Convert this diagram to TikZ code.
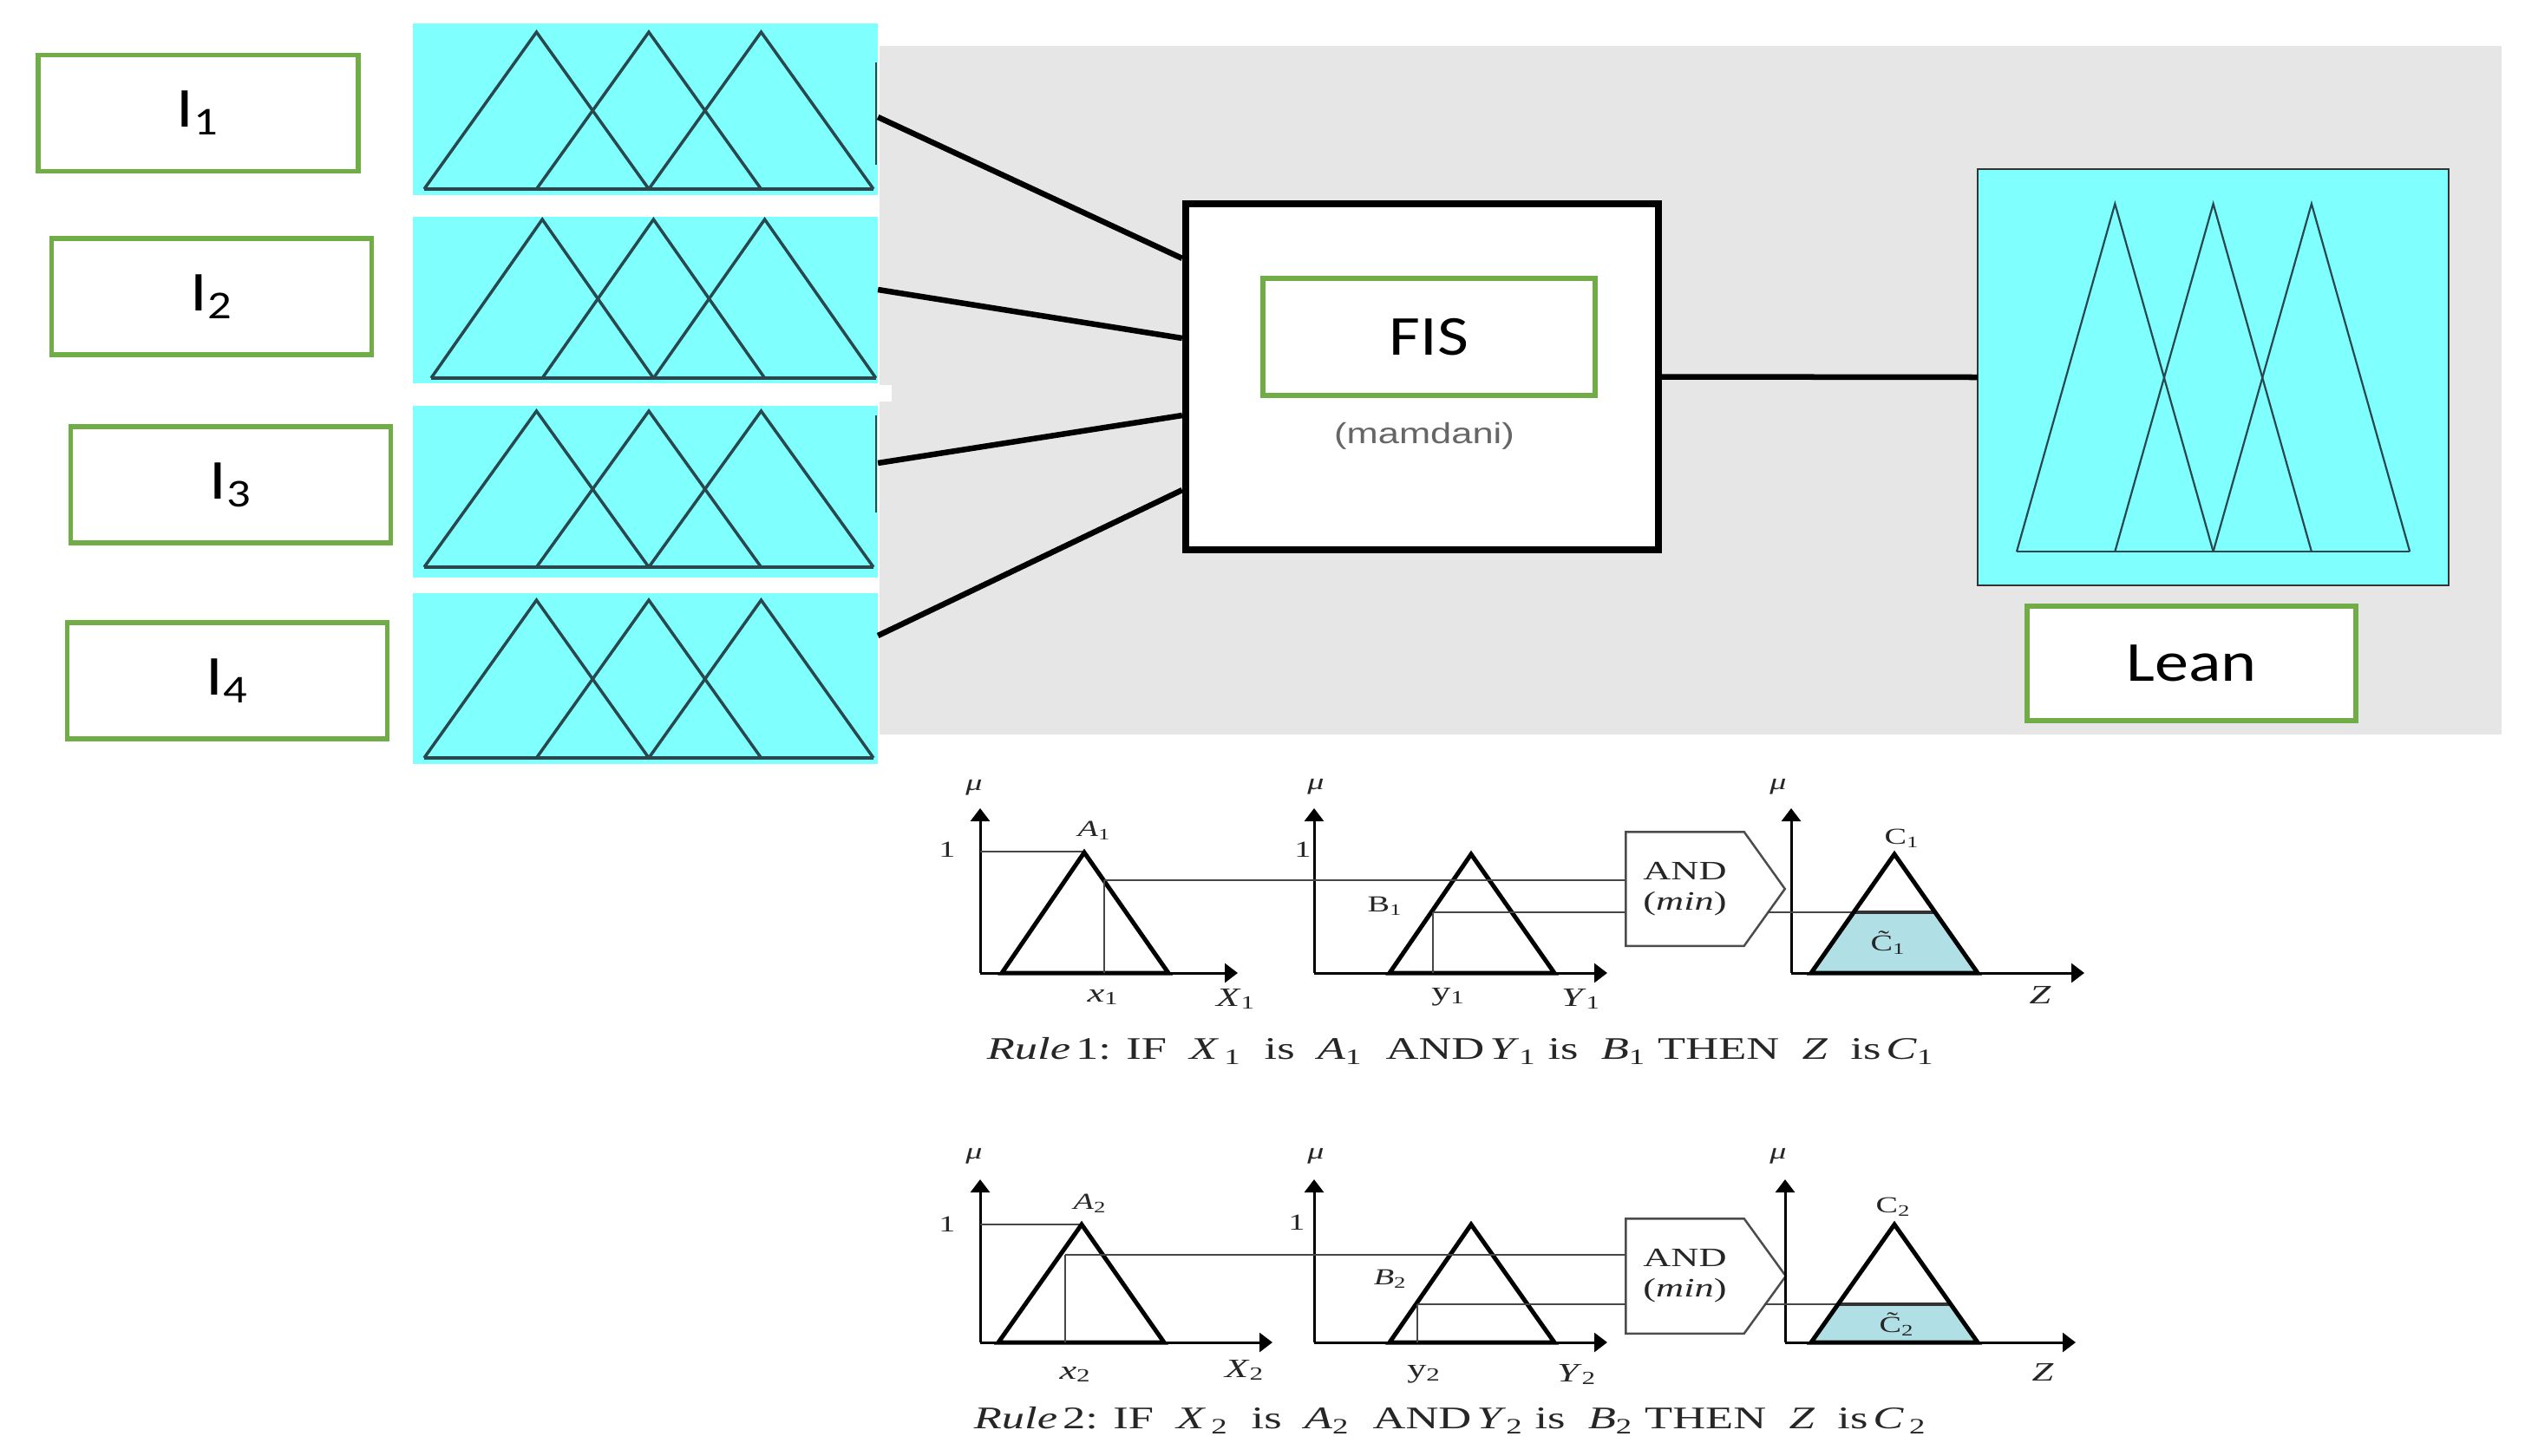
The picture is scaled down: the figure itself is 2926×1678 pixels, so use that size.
\documentclass[tikz,border=0pt]{standalone}
\usepackage{fontspec}
\newfontfamily\boxfont[FakeStretch=1.2]{Carlito}
\newfontfamily\mamfont[FakeStretch=1.3]{Liberation Sans}
\newfontfamily\rulefont[FakeStretch=1.45]{Liberation Serif}
\usetikzlibrary{arrows.meta}
\definecolor{mfcyan}{RGB}{128,255,255}
\definecolor{boxgreen}{RGB}{112,173,71}
\definecolor{bggrey}{RGB}{230,230,230}
\definecolor{cutfill}{RGB}{176,224,230}
\definecolor{mfdark}{RGB}{40,72,78}

\tikzset{
  inbox/.style={draw=boxgreen, line width=0.057cm, fill=white, inner sep=0,
    minimum width=3.69cm, minimum height=1.34cm,
    font={\boxfont\fontsize{18.5}{20}\selectfont}},
  mfpanel/.style={fill=mfcyan, inner sep=0, outer sep=0, minimum width=5.36cm},
  mfline/.style={mfdark, line width=0.035cm},
  link/.style={line width=0.065cm},
  axis/.style={line width=0.03cm, -{Triangle[width=0.22cm,length=0.15cm]}},
  member/.style={line width=0.05cm, line join=miter},
  guide/.style={gray!55!black, line width=0.025cm},
  andbox/.style={draw=gray!60!black, line width=0.025cm},
  lbl/.style={inner sep=0, text=black!85, font={\rulefont\fontsize{8.7}{10}\selectfont}},
  smalllbl/.style={lbl, font={\rulefont\fontsize{7.5}{8}\selectfont}},
  caption/.style={lbl, font={\rulefont\fontsize{10.3}{12}\selectfont}},
}

\begin{document}
\begin{tikzpicture}[x=0.01cm, y=-0.01cm]
  \useasboundingbox (0,0) rectangle (2926,1678);
  % FIS editor window
  \fill[bggrey] (1014,53) rectangle (2884,847);

  % inputs
  \node[inbox] (in1) at (228.5,130.5) {I\textsubscript{1}};
  \node[inbox] (in2) at (244,342) {I\textsubscript{2}};
  \node[inbox] (in3) at (266,559) {I\textsubscript{3}};
  \node[inbox] (in4) at (262,785) {I\textsubscript{4}};

  \foreach \n/\yc/\h/\xs/\st/\pk/\bs in {1/126/1.98/489/129.5/37/218,
      2/346/1.92/497/128.2/253/436, 3/567/1.98/489/129.5/474/654,
      4/782.5/1.97/489/129.5/692/874}{
    \node[mfpanel, minimum height=\h cm] (mf\n) at (744,\yc) {};
    \draw[mfline] (\xs,\bs) -- ({\xs+4*\st},\bs);
    \foreach \k in {0,1,2}
      \draw[mfline] ({\xs+\k*\st},\bs) -- ({\xs+(\k+1)*\st},\pk)
        -- ({\xs+(\k+2)*\st},\bs);
  }
  \fill[white] (476,444) rectangle (1028,463);
  \draw[gray!50!black, line width=0.02cm] (1010,72) -- (1010,190)
    (1010,479) -- (1010,591);

  % inference block
  \node[draw, line width=0.08cm, fill=white, minimum width=5.45cm,
    minimum height=3.99cm] (fis) at (1639.5,434.5) {};
  \node[inbox, minimum width=3.83cm, minimum height=1.35cm] (fislbl)
    at (1647.5,388.5) {FIS};
  \node[font={\mamfont\fontsize{9.5}{10}\selectfont}, text=gray!80!black]
    (mam) at (1642,503) {(mamdani)};

  % output
  \node[mfpanel, draw=black!80, line width=0.025cm, minimum width=5.43cm,
    minimum height=4.8cm] (out) at (2551.5,435) {};
  \draw[mfline, line width=0.022cm] (2325,636) -- (2778,636);
  \foreach \k in {0,1,2}
    \draw[mfline, line width=0.022cm] ({2325+\k*113.3},636)
      -- ({2325+(\k+1)*113.3},235) -- ({2325+(\k+2)*113.3},636);
  \node[inbox, minimum width=3.79cm, minimum height=1.32cm] (lean)
    at (2526.5,765) {Lean};

  \draw[link] ([yshift=-0.09cm]mf1.east) -- ([yshift=1.365cm]fis.west);
  \draw[link] ([yshift=0.12cm]mf2.east) -- ([yshift=0.445cm]fis.west);
  \draw[link] ([yshift=0.33cm]mf3.east) -- ([yshift=-0.445cm]fis.west);
  \draw[link] ([yshift=0.495cm]mf4.east) -- ([yshift=-1.305cm]fis.west);
  \draw[link] (fis.east) -- (out.west);

  % rule 1
  \draw[axis] (1130,1122) -- (1130,932);
  \draw[axis] (1130,1122) -- (1427,1122);
  \draw[guide] (1130,982) -- (1250,982);
  \draw[member] (1155,1122) -- (1250,983) -- (1347,1122) -- cycle;
  \draw[guide] (1273,1122) -- (1273,1015) coordinate (a1cut);
  \draw[axis] (1515,1122) -- (1515,932);
  \draw[axis] (1515,1122) -- (1853,1122);
  \draw[member] (1602,1122) -- (1696,985) -- (1792,1122) -- cycle;
  \draw[guide] (1652,1122) -- (1652,1052) coordinate (b1cut);
  \node[lbl, minimum width=1.35cm, minimum height=1.3cm, align=center]
    (and1) at (1942.5,1025) {AND\\(\textit{min})};
  \draw[andbox] (and1.north west) -- (and1.north east)
    -- ([xshift=0.47cm]and1.east) -- (and1.south east)
    -- (and1.south west) -- cycle;
  \draw[guide] (a1cut) -- (a1cut -| and1.west);
  \draw[guide] (b1cut) -- (b1cut -| and1.west);
  \fill[cutfill] (2088,1122) -- (2136,1052) coordinate (c1cut)
    -- (2232,1052) -- (2280,1122) -- cycle;
  \draw[axis] (2065,1122) -- (2065,932);
  \draw[axis] (2065,1122) -- (2403,1122);
  \coordinate (and1out) at (2038,1052);
  \draw[guide] (and1out) -- (c1cut);
  \draw[line width=0.035cm, black!80] (c1cut) -- (2232,1052);
  \draw[member] (2088,1122) -- (2184,985) -- (2280,1122) -- cycle;

  \node[smalllbl] (mu11) at (1123,908) {\textit{μ}};
  \node[smalllbl] (mu12) at (1517,907) {\textit{μ}};
  \node[smalllbl] (mu13) at (2050,907) {\textit{μ}};
  \node[smalllbl] (one11) at (1092,980) {1};
  \node[smalllbl] (one12) at (1502,980) {1};
  \node[smalllbl] (la1) at (1262,958) {\textit{A}\textsubscript{1}};
  \node[smalllbl] (lb1) at (1597,1045) {B\textsubscript{1}};
  \node[smalllbl] (lc1) at (2193,967) {C\textsubscript{1}};
  \node[smalllbl] (lct1) at (2177,1087) {\~{C}\textsubscript{1}};
  \node[lbl] (lx1) at (1272,1150) {\textit{x}\textsubscript{1}};
  \node[lbl] (lX1) at (1425,1152) {\textit{X}\textsubscript{1}};
  \node[lbl] (ly1) at (1670,1150) {y\textsubscript{1}};
  \node[lbl] (lY1) at (1823,1152) {\textit{Y}\textsubscript{1}};
  \node[lbl] (lz1) at (2352,1147) {\textit{Z}};
  \node[caption] (rule1) at (1684,1212) {\textit{Rule}\,1: IF\ \ \textit{X}\,\textsubscript{1}\ \ is\ \ \textit{A}\textsubscript{1}\ \ AND\,\textit{Y}\textsubscript{1} is\ \ \textit{B}\textsubscript{1} THEN\ \ \textit{Z}\ \ is\,\textit{C}\textsubscript{1}};

  % rule 2
  \draw[axis] (1130,1548) -- (1130,1360);
  \draw[axis] (1130,1548) -- (1467,1548);
  \draw[guide] (1130,1412) -- (1247,1412);
  \draw[member] (1151,1548) -- (1247,1412) -- (1342,1548) -- cycle;
  \draw[guide] (1228,1548) -- (1228,1447) coordinate (a2cut);
  \draw[axis] (1515,1548) -- (1515,1360);
  \draw[axis] (1515,1548) -- (1853,1548);
  \draw[member] (1602,1548) -- (1696,1412) -- (1792,1548) -- cycle;
  \draw[guide] (1634,1548) -- (1634,1504) coordinate (b2cut);
  \node[lbl, minimum width=1.35cm, minimum height=1.31cm, align=center]
    (and2) at (1942.5,1471.5) {AND\\(\textit{min})};
  \draw[andbox] (and2.north west) -- (and2.north east)
    -- ([xshift=0.48cm]and2.east) -- (and2.south east)
    -- (and2.south west) -- cycle;
  \draw[guide] (a2cut) -- (a2cut -| and2.west);
  \draw[guide] (b2cut) -- (b2cut -| and2.west);
  \fill[cutfill] (2088,1548) -- (2119,1504) coordinate (c2cut)
    -- (2249,1504) -- (2280,1548) -- cycle;
  \draw[axis] (2058,1548) -- (2058,1360);
  \draw[axis] (2058,1548) -- (2393,1548);
  \coordinate (and2out) at (2034,1504);
  \draw[guide] (and2out) -- (c2cut);
  \draw[line width=0.035cm, black!80] (c2cut) -- (2249,1504);
  \draw[member] (2088,1548) -- (2184,1412) -- (2280,1548) -- cycle;

  \node[smalllbl] (mu21) at (1123,1333) {\textit{μ}};
  \node[smalllbl] (mu22) at (1517,1333) {\textit{μ}};
  \node[smalllbl] (mu23) at (2050,1333) {\textit{μ}};
  \node[smalllbl] (one21) at (1092,1412) {1};
  \node[smalllbl] (one22) at (1495,1410) {1};
  \node[smalllbl] (la2) at (1257,1388) {\textit{A}\textsubscript{2}};
  \node[smalllbl] (lb2) at (1603,1475) {\textit{B}\textsubscript{2}};
  \node[smalllbl] (lc2) at (2183,1392) {C\textsubscript{2}};
  \node[smalllbl] (lct2) at (2187,1527) {\~{C}\textsubscript{2}};
  \node[lbl] (lx2) at (1240,1585) {\textit{x}\textsubscript{2}};
  \node[lbl] (lX2) at (1435,1580) {\textit{X}\textsubscript{2}};
  \node[lbl] (ly2) at (1642,1585) {y\textsubscript{2}};
  \node[lbl] (lY2) at (1818,1585) {\textit{Y}\textsubscript{2}};
  \node[lbl] (lz2) at (2355,1582) {\textit{Z}};
  \node[caption] (rule2) at (1672,1638) {\textit{Rule}\,2: IF\ \ \textit{X}\,\textsubscript{2}\ \ is\ \ \textit{A}\textsubscript{2}\ \ AND\,\textit{Y}\textsubscript{2} is\ \ \textit{B}\textsubscript{2} THEN\ \ \textit{Z}\ \ is\,\textit{C}\,\textsubscript{2}};
\end{tikzpicture}
\end{document}
